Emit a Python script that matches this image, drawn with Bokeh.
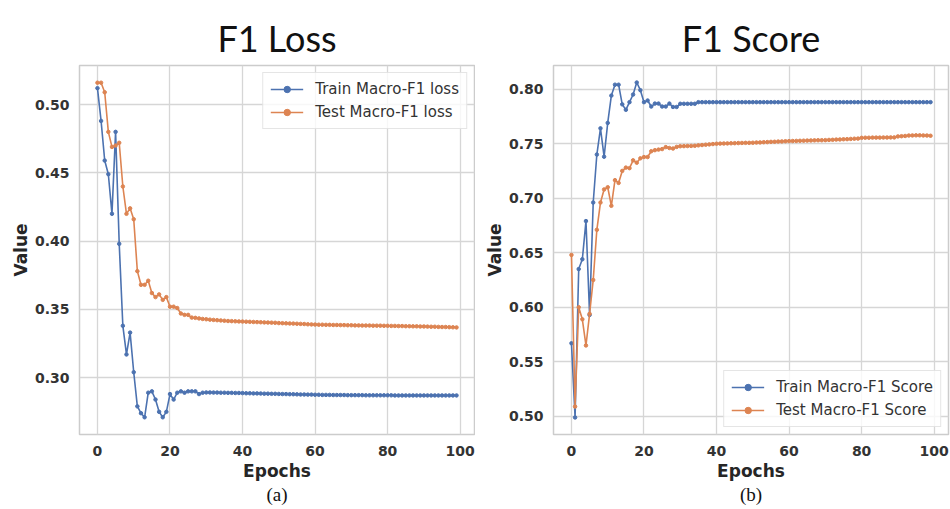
from bokeh.plotting import figure
from bokeh.layouts import row
from bokeh.models import Title, Range1d, FixedTicker, NumeralTickFormatter, Legend, LegendItem
from bokeh.embed import file_html
from bokeh.resources import INLINE

epochs = list(range(100))

loss_train = [
    0.512, 0.488, 0.459, 0.449, 0.420, 0.480, 0.398, 0.338, 0.317, 0.333,
    0.304, 0.279, 0.274, 0.271, 0.289, 0.290, 0.284, 0.275, 0.271, 0.275,
    0.288, 0.284, 0.289, 0.290, 0.289, 0.290, 0.290, 0.290, 0.288, 0.289,
    0.2892, 0.2892, 0.2891, 0.2891, 0.2890, 0.2890, 0.2889, 0.2889, 0.2888, 0.2888,
    0.2887, 0.2886, 0.2886, 0.2885, 0.2885, 0.2884, 0.2883, 0.2883, 0.2882, 0.2882,
    0.2881, 0.2880, 0.2880, 0.2879, 0.2879, 0.2878, 0.2877, 0.2877, 0.2876, 0.2876,
    0.2875, 0.2875, 0.2874, 0.2874, 0.2874, 0.2873, 0.2873, 0.2873, 0.2873, 0.2872,
    0.2872, 0.2872, 0.2872, 0.2872, 0.2871, 0.2871, 0.2871, 0.2871, 0.2871, 0.2871,
    0.2871, 0.2871, 0.2870, 0.2870, 0.2870, 0.2870, 0.2870, 0.2870, 0.2870, 0.2870,
    0.2870, 0.2870, 0.2870, 0.2870, 0.2870, 0.2870, 0.2870, 0.2870, 0.2870, 0.2870,
]
loss_test = [
    0.516, 0.516, 0.509, 0.480, 0.469, 0.470, 0.472, 0.440, 0.420, 0.424,
    0.416, 0.378, 0.368, 0.368, 0.371, 0.362, 0.359, 0.361, 0.357, 0.359,
    0.352, 0.352, 0.351, 0.347, 0.346, 0.346, 0.3440, 0.3438, 0.3434, 0.3430,
    0.3428, 0.3425, 0.3423, 0.3421, 0.3419, 0.3417, 0.3415, 0.3414, 0.3413, 0.3412,
    0.3411, 0.3410, 0.3409, 0.3408, 0.3407, 0.3406, 0.3405, 0.3404, 0.3403, 0.3402,
    0.3400, 0.3399, 0.3398, 0.3397, 0.3396, 0.3395, 0.3394, 0.3393, 0.3391, 0.3390,
    0.3389, 0.3388, 0.3388, 0.3387, 0.3387, 0.3386, 0.3386, 0.3385, 0.3385, 0.3384,
    0.3384, 0.3383, 0.3383, 0.3382, 0.3382, 0.3382, 0.3381, 0.3381, 0.3381, 0.3380,
    0.3380, 0.3379, 0.3379, 0.3378, 0.3378, 0.3377, 0.3377, 0.3376, 0.3376, 0.3375,
    0.3375, 0.3374, 0.3373, 0.3373, 0.3372, 0.3371, 0.3371, 0.3370, 0.3369, 0.3368,
]
score_train = [
    0.567, 0.499, 0.635, 0.644, 0.679, 0.593, 0.696, 0.740, 0.764, 0.738,
    0.769, 0.794, 0.804, 0.804, 0.786, 0.781, 0.788, 0.795, 0.806, 0.799,
    0.788, 0.7895, 0.784, 0.7867, 0.7867, 0.784, 0.784, 0.7867, 0.7836, 0.7836,
    0.7865, 0.7865, 0.7865, 0.7865, 0.7865, 0.788, 0.788, 0.788, 0.788, 0.788,
    0.788, 0.788, 0.788, 0.788, 0.788, 0.788, 0.788, 0.788, 0.788, 0.788,
    0.788, 0.788, 0.788, 0.788, 0.788, 0.788, 0.788, 0.788, 0.788, 0.788,
    0.788, 0.788, 0.788, 0.788, 0.788, 0.788, 0.788, 0.788, 0.788, 0.788,
    0.788, 0.788, 0.788, 0.788, 0.788, 0.788, 0.788, 0.788, 0.788, 0.788,
    0.788, 0.788, 0.788, 0.788, 0.788, 0.788, 0.788, 0.788, 0.788, 0.788,
    0.788, 0.788, 0.788, 0.788, 0.788, 0.788, 0.788, 0.788, 0.788, 0.788,
]
score_test = [
    0.648, 0.509, 0.600, 0.589, 0.565, 0.594, 0.625, 0.671, 0.696, 0.708,
    0.710, 0.693, 0.7165, 0.714, 0.725, 0.728, 0.7275, 0.7347, 0.7325, 0.7365,
    0.7377, 0.7377, 0.743, 0.744, 0.7445, 0.745, 0.7468, 0.746, 0.7455, 0.747,
    0.7476, 0.7477, 0.7478, 0.7479, 0.7480, 0.7484, 0.7487, 0.7490, 0.7493, 0.7496,
    0.7499, 0.7500, 0.7501, 0.7502, 0.7503, 0.7504, 0.7505, 0.7506, 0.7507, 0.7507,
    0.7508, 0.7510, 0.7511, 0.7513, 0.7514, 0.7516, 0.7517, 0.7519, 0.7520, 0.7522,
    0.7523, 0.7524, 0.7525, 0.7526, 0.7527, 0.7528, 0.7529, 0.7530, 0.7531, 0.7531,
    0.7532, 0.7534, 0.7535, 0.7537, 0.7538, 0.7540, 0.7541, 0.7543, 0.7545, 0.7546,
    0.7553, 0.7554, 0.7554, 0.7555, 0.7555, 0.7555, 0.7556, 0.7556, 0.7557, 0.7557,
    0.7566, 0.7568, 0.7570, 0.7574, 0.7575, 0.7576, 0.7576, 0.7575, 0.7574, 0.7572,
]

x_ticks = [0, 20, 40, 60, 80, 100]
loss_ticks = [0.30, 0.35, 0.40, 0.45, 0.50]
score_ticks = [0.50, 0.55, 0.60, 0.65, 0.70, 0.75, 0.80]

BLUE = "#4C72B0"
ORANGE = "#DD8452"
GRID = "#d6d6d6"
TXT = "#262626"


def make(title, caption, y_range, y_ticks, train, test, labels, legend_loc,
         bl, br, bt, bb, title_offset):
    p = figure(width=475, height=509, output_backend="svg", toolbar_location=None,
               x_range=Range1d(-4.95, 103.95), y_range=Range1d(*y_range),
               min_border_left=bl, min_border_right=br, min_border_top=bt,
               min_border_bottom=bb, background_fill_color="white",
               border_fill_color="white")
    p.title = Title(text=title, align="center", vertical_align="top",
                    text_font="Lato", text_font_size="36px",
                    text_font_style="normal", text_color="#111111",
                    standoff=8, offset=title_offset)
    p.add_layout(Title(text=caption, align="center", text_font="Liberation Serif",
                       text_font_size="19px", text_font_style="normal",
                       text_color="#111111", standoff=-4), "below")
    p.outline_line_color = "#cccccc"
    p.outline_line_width = 1.5
    for ax in (p.xaxis[0], p.yaxis[0]):
        ax.axis_line_color = None
        ax.major_tick_out = 0
        ax.major_tick_in = 0
        ax.minor_tick_out = 0
        ax.minor_tick_in = 0
        ax.major_label_text_font = "DejaVu Sans"
        ax.major_label_text_font_style = "bold"
        ax.major_label_text_font_size = "14px"
        ax.major_label_text_color = "#333333"
        ax.axis_label_text_font = "DejaVu Sans"
        ax.axis_label_text_font_style = "bold"
        ax.axis_label_text_font_size = "17px"
        ax.axis_label_text_color = TXT
    p.xaxis.ticker = FixedTicker(ticks=x_ticks)
    p.xaxis.formatter = NumeralTickFormatter(format="0")
    p.yaxis.ticker = FixedTicker(ticks=y_ticks)
    p.yaxis.formatter = NumeralTickFormatter(format="0.00")
    p.xaxis.axis_label = "Epochs"
    p.yaxis.axis_label = "Value"
    p.xaxis.major_label_standoff = 11
    p.yaxis.major_label_standoff = 10
    p.xaxis.axis_label_standoff = 2
    p.yaxis.axis_label_standoff = 1
    p.grid.grid_line_color = GRID
    p.grid.grid_line_width = 1.3

    items = []
    for ys, col, lab in ((train, BLUE, labels[0]), (test, ORANGE, labels[1])):
        r1 = p.line(epochs, ys, line_color=col, line_width=1.6)
        r2 = p.scatter(epochs, ys, size=3.5, fill_color=col, line_color=col)
        items.append(LegendItem(label=lab, renderers=[r1, r2]))
    leg = Legend(items=items, location=legend_loc, label_text_font="DejaVu Sans",
                 label_text_font_size="15px", label_text_color="#333333",
                 glyph_width=33, glyph_height=16, label_height=17, spacing=5,
                 label_standoff=12, padding=7, margin=7,
                 border_line_color="#cccccc", border_line_width=1,
                 background_fill_alpha=0.8)
    p.add_layout(leg, "center")
    return p


p1 = make("F1 Loss", "(a)", (0.2584, 0.5286), loss_ticks, loss_train, loss_test,
          ["Train Macro-F1 loss", "Test Macro-F1 loss"], "top_right",
          79, 1, 65, 75, 6)
p2 = make("F1 Score", "(b)", (0.4834, 0.8216), score_ticks, score_train, score_test,
          ["Train Macro-F1 Score", "Test Macro-F1 Score"], "bottom_right",
          78, 2, 64, 74, 20)

layout = row(p1, p2)
open("out.html", "w").write(file_html(layout, INLINE))
